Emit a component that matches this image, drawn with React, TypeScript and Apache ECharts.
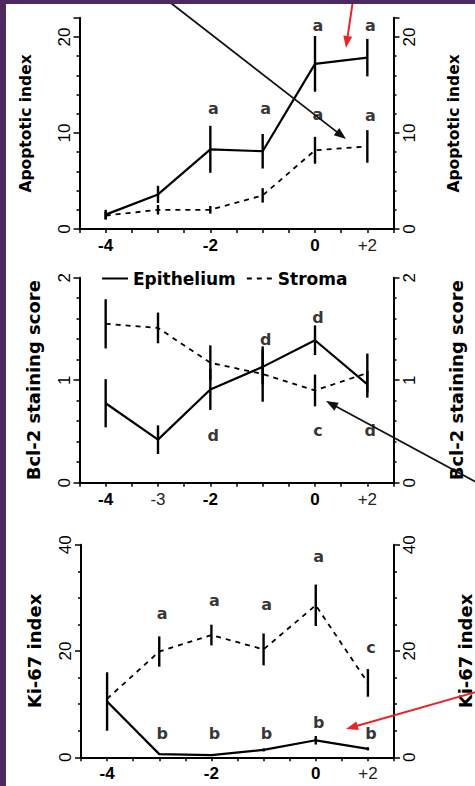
import React, { useEffect, useRef } from "react";
import * as echarts from "echarts";

// ---------- data ----------
const xPos = [-4, -3, -2, -1, 0, 1];

const topXLabelPos = [-4, -2, 0, 1];
const topXLabelText = ["-4", "-2", "0", "+2"];
const midXLabelPos = [-4, -3, -2, 0, 1];
const midXLabelText = ["-4", "-3", "-2", "0", "+2"];
const handwritten = ["+2", "-3"];

const apoYTicks = [0, 10, 20];
const bclYTicks = [0, 1, 2];
const kiYTicks = [0, 20, 40];

// Apoptotic index
const apoEpi = [1.5, 3.6, 8.3, 8.1, 17.2, 17.85];
const apoEpiErr = [0.5, 0.9, 2.45, 1.8, 2.9, 1.95];
const apoStr = [1.4, 2.0, 2.0, 3.5, 8.2, 8.6];
const apoStrErr = [0.4, 0.5, 0.4, 0.75, 1.4, 1.7];
const apoLetterX = [-2, -1, 0, 1, 0, 1];
const apoLetterY = [12.6, 12.6, 21.2, 21.2, 11.9, 11.8];
const apoLetterText = ["a", "a", "a", "a", "a", "a"];

// Bcl-2 staining score
const bclEpi = [0.775, 0.42, 0.91, 1.13, 1.39, 0.96];
const bclEpiErr = [0.235, 0.14, 0.2, 0.17, 0.145, 0.13];
const bclStr = [1.55, 1.51, 1.17, 1.06, 0.9, 1.07];
const bclStrErr = [0.24, 0.15, 0.17, 0.27, 0.155, 0.19];
const bclLetterX = [-2, 0, 1, -1, 0];
const bclLetterY = [0.46, 0.51, 0.51, 1.4, 1.61];
const bclLetterText = ["d", "c", "d", "d", "d"];

// Ki-67 index
const kiEpi = [10.5, 0.6, 0.4, 1.4, 3.2, 1.6];
const kiEpiErr = [5.5, 0, 0, 0.3, 0.8, 0.3];
const kiStr = [11.0, 19.9, 23.0, 20.3, 28.6, 14.0];
const kiStrErr = [0, 2.85, 1.95, 3.0, 3.9, 2.6];
const kiLetterX = [-3, -2, -1, 0, 1, -3, -2, -1, 0, 1];
const kiLetterY = [27.0, 29.5, 28.7, 37.7, 20.7, 4.5, 4.5, 4.5, 6.5, 4.5];
const kiLetterText = ["a", "a", "a", "a", "c", "b", "b", "b", "b", "b"];

// ---------- helpers ----------
const BLACK = "#000";
const NAME_FONT = "DejaVu Sans";
const TICK_FONT = "Liberation Sans";

function makeXAxis(gridIndex: number, pos: number[], text: string[]) {
  return {
    type: "value",
    gridIndex,
    min: -4.5,
    max: 1.5,
    interval: 0.5,
    axisLine: { show: true, onZero: false, lineStyle: { color: BLACK, width: 2 } },
    axisTick: { show: true, length: 4, lineStyle: { color: BLACK, width: 1.5 } },
    splitLine: { show: false },
    axisLabel: {
      margin: 8,
      color: BLACK,
      fontFamily: TICK_FONT,
      formatter: (v: number) => {
        const i = pos.findIndex((p) => Math.abs(p - v) < 1e-6);
        if (i < 0) return "";
        const t = text[i];
        return handwritten.includes(t) ? `{h|${t}}` : `{b|${t}}`;
      },
      rich: {
        b: { fontFamily: TICK_FONT, fontWeight: "bold", fontSize: 17, color: BLACK },
        h: { fontFamily: TICK_FONT, fontWeight: "normal", fontSize: 17, color: "#222" },
      },
    },
  };
}

function makeYAxis(
  gridIndex: number,
  position: string,
  max: number,
  interval: number,
  minorSplit: number,
  ticks: number[],
  name: string,
  nameGap: number,
  nameSize: number
) {
  return {
    type: "value",
    gridIndex,
    position,
    min: 0,
    max,
    interval,
    name,
    nameLocation: "middle",
    nameRotate: 90,
    nameGap,
    nameTextStyle: { fontFamily: NAME_FONT, fontWeight: "bold", fontSize: nameSize, color: BLACK },
    axisLine: { show: true, onZero: false, lineStyle: { color: BLACK, width: 2 } },
    axisTick: { show: true, length: 6, lineStyle: { color: BLACK, width: 1.5 } },
    minorTick: { show: true, splitNumber: minorSplit, length: 3, lineStyle: { color: BLACK, width: 1.5 } },
    splitLine: { show: false },
    minorSplitLine: { show: false },
    axisLabel: {
      rotate: 90,
      margin: 7,
      color: BLACK,
      fontFamily: TICK_FONT,
      fontSize: 17,
      formatter: (v: number) => (ticks.some((t) => Math.abs(t - v) < 1e-9) ? String(v) : ""),
    },
  };
}

function lineSeries(name: string, axis: number, values: number[], dashed: boolean) {
  return {
    type: "line",
    name,
    xAxisIndex: axis,
    yAxisIndex: axis * 2,
    data: xPos.map((x, i) => [x, values[i]]),
    symbol: "none",
    silent: true,
    lineStyle: { color: BLACK, width: dashed ? 1.8 : 2.2, type: dashed ? [5, 5] : "solid" },
    itemStyle: { color: BLACK },
    z: 3,
  };
}

function errSeries(name: string, axis: number, values: number[], errs: number[]) {
  return {
    type: "custom",
    name,
    xAxisIndex: axis,
    yAxisIndex: axis * 2,
    silent: true,
    data: xPos.map((x, i) => [x, values[i], errs[i]]),
    renderItem: (params: any, api: any) => {
      const x = api.value(0);
      const y = api.value(1);
      const e = api.value(2);
      if (!e) return null;
      const p1 = api.coord([x, y + e]);
      const p2 = api.coord([x, y - e]);
      return {
        type: "line",
        shape: { x1: p1[0], y1: p1[1], x2: p2[0], y2: p2[1] },
        style: { stroke: BLACK, lineWidth: 2.4 },
      };
    },
    z: 4,
  };
}

function letterSeries(axis: number, lx: number[], ly: number[], lt: string[]) {
  return {
    type: "scatter",
    name: "letters",
    xAxisIndex: axis,
    yAxisIndex: axis * 2,
    silent: true,
    symbolSize: 0,
    itemStyle: { color: BLACK },
    data: lx.map((x, i) => [x, ly[i], lt[i]]),
    label: {
      show: true,
      position: "inside",
      offset: [3, 0],
      formatter: (p: any) => p.value[2],
      fontFamily: NAME_FONT,
      fontWeight: "bold",
      fontSize: 16,
      color: BLACK,
      textBorderColor: BLACK,
      textBorderWidth: 0,
    },
    z: 5,
  };
}

function arrow(x1: number, y1: number, x2: number, y2: number, color: string, width: number) {
  const dx = x2 - x1;
  const dy = y2 - y1;
  const len = Math.sqrt(dx * dx + dy * dy);
  const ux = dx / len;
  const uy = dy / len;
  const headLen = 12;
  const headHalf = 4.5;
  const bx = x2 - ux * headLen;
  const by = y2 - uy * headLen;
  const px = -uy;
  const py = ux;
  return [
    {
      type: "line",
      silent: true,
      z: 100,
      shape: { x1, y1, x2: bx + ux * 2, y2: by + uy * 2 },
      style: { stroke: color, lineWidth: width },
    },
    {
      type: "polygon",
      silent: true,
      z: 100,
      shape: {
        points: [
          [x2, y2],
          [bx + px * headHalf, by + py * headHalf],
          [bx - px * headHalf, by - py * headHalf],
        ],
      },
      style: { fill: color },
    },
  ];
}

export default function App() {
  const ref = useRef<HTMLDivElement>(null);

  useEffect(() => {
    document.body.style.margin = "0";
    if (!ref.current) return;
    const chart = echarts.init(ref.current, undefined, { renderer: "svg" });

    const option: any = {
      animation: false,
      backgroundColor: "#fff",
      grid: [
        { left: 79.5, top: 17.8, width: 314, height: 211.2, outerBoundsMode: "none", containLabel: false },
        { left: 79.5, top: 277.7, width: 314, height: 205, outerBoundsMode: "none", containLabel: false },
        { left: 81, top: 544.7, width: 313, height: 212.6, outerBoundsMode: "none", containLabel: false },
      ],
      xAxis: [
        makeXAxis(0, topXLabelPos, topXLabelText),
        makeXAxis(1, midXLabelPos, midXLabelText),
        makeXAxis(2, topXLabelPos, topXLabelText),
      ],
      yAxis: [
        makeYAxis(0, "left", 22, 10, 5, apoYTicks, "Apoptotic index", 46, 15.5),
        makeYAxis(0, "right", 22, 10, 5, apoYTicks, "Apoptotic index", 52, 15.5),
        makeYAxis(1, "left", 2, 1, 5, bclYTicks, "Bcl-2 staining score", 37, 18),
        makeYAxis(1, "right", 2, 1, 5, bclYTicks, "Bcl-2 staining score", 54, 18),
        makeYAxis(2, "left", 40, 20, 4, kiYTicks, "Ki-67 index", 38, 18),
        makeYAxis(2, "right", 40, 20, 4, kiYTicks, "Ki-67 index", 62, 18),
      ],
      legend: {
        show: true,
        left: 101,
        top: 270,
        padding: 0,
        itemWidth: 26,
        itemHeight: 12,
        itemGap: 10,
        selectedMode: false,
        data: ["Epithelium", "Stroma"],
        itemStyle: { color: "rgba(0,0,0,0)", borderWidth: 0, opacity: 0 },
        textStyle: { fontFamily: NAME_FONT, fontWeight: "bold", fontSize: 17, color: BLACK },
      },
      series: [
        lineSeries("Epithelium", 0, apoEpi, false),
        lineSeries("Stroma", 0, apoStr, true),
        errSeries("Epithelium SE", 0, apoEpi, apoEpiErr),
        errSeries("Stroma SE", 0, apoStr, apoStrErr),
        letterSeries(0, apoLetterX, apoLetterY, apoLetterText),

        lineSeries("Epithelium", 1, bclEpi, false),
        lineSeries("Stroma", 1, bclStr, true),
        errSeries("Epithelium SE", 1, bclEpi, bclEpiErr),
        errSeries("Stroma SE", 1, bclStr, bclStrErr),
        letterSeries(1, bclLetterX, bclLetterY, bclLetterText),

        lineSeries("Epithelium", 2, kiEpi, false),
        lineSeries("Stroma", 2, kiStr, true),
        errSeries("Epithelium SE", 2, kiEpi, kiEpiErr),
        errSeries("Stroma SE", 2, kiStr, kiStrErr),
        letterSeries(2, kiLetterX, kiLetterY, kiLetterText),
      ],
      graphic: [
        ...arrow(167, 0, 346, 139, "#111", 1.8),
        ...arrow(353, 0, 346, 48, "#e8262a", 2),
        ...arrow(476, 482, 326, 401, "#111", 1.8),
        ...arrow(476, 692, 346, 729, "#e8262a", 2),
        { type: "rect", silent: true, z: 200, shape: { x: 0, y: 0, width: 6, height: 786 }, style: { fill: "#4c2a5f" } },
        { type: "rect", silent: true, z: 200, shape: { x: 0, y: 0, width: 475, height: 4 }, style: { fill: "#4c2a5f" } },
      ],
    };

    chart.setOption(option);
    return () => chart.dispose();
  }, []);

  return (
    <div
      ref={ref}
      style={{ position: "absolute", left: 0, top: 0, width: 475, height: 786, background: "#fff" }}
    />
  );
}
